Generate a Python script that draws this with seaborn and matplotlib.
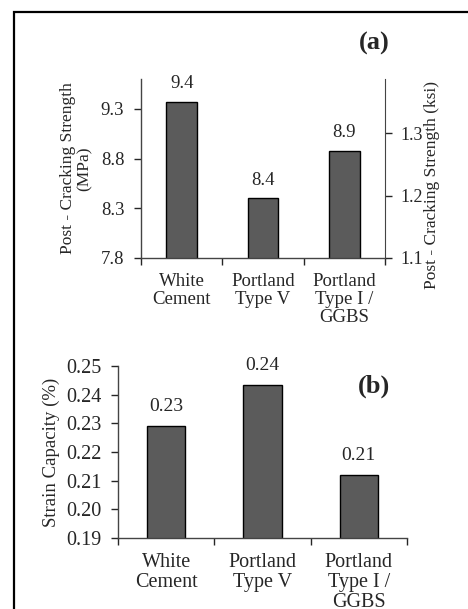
import seaborn as sns
import matplotlib.pyplot as plt
import pandas as pd
from matplotlib.patches import Rectangle

categories = ["White\nCement", "Portland\nType V", "Portland\nType I /\nGGBS"]
strength_mpa = [9.37, 8.40, 8.88]
strength_text = ["9.4", "8.4", "8.9"]
strain = [0.229, 0.2435, 0.212]
strain_text = ["0.23", "0.24", "0.21"]
mpa_ticks = [7.8, 8.3, 8.8, 9.3]
ksi_ticks = [1.1, 1.2, 1.3]
strain_ticks = [0.19, 0.20, 0.21, 0.22, 0.23, 0.24, 0.25]

sns.set_style("ticks")
plt.rcParams['font.family'] = ['Liberation Serif', 'DejaVu Serif']

fig = plt.figure(figsize=(4.68, 6.09), dpi=100)

# frame around the whole figure (only left/top visible in the crop)
fig.patches.append(Rectangle((14/468, -0.2), 1.2, 1.2 - 12/609,
                             transform=fig.transFigure, fill=False, lw=1.6,
                             ec="black", clip_on=False))

bar_col = "#5b5b5b"


def style_axis(ax, fs):
    ax.set_xlim(-0.5, 2.5)
    ax.set_xlabel("")
    ax.set_xticks([-0.5, 0.5, 1.5, 2.5], minor=True)
    ax.tick_params(axis="x", which="major", length=0, pad=11, labelsize=fs)
    ax.tick_params(axis="x", which="minor", length=5, width=1, direction="out")
    ax.tick_params(axis="y", length=5, width=1, pad=7, labelsize=fs)
    for s in ["top", "right"]:
        ax.spines[s].set_visible(False)
    for s in ["left", "bottom"]:
        ax.spines[s].set_color("#444444")
        ax.spines[s].set_linewidth(1)
    for lab in ax.get_xticklabels():
        lab.set_linespacing(1.05)


# (a) post-cracking strength
df_a = pd.DataFrame({"cat": categories, "val": strength_mpa})
ax1 = fig.add_axes([141/468, 1 - 258/609, 244/468, 179/609])
sns.barplot(data=df_a, x="cat", y="val", color=bar_col, saturation=1,
            width=0.38, edgecolor="black", linewidth=1, ax=ax1)
ax1.set_ylim(7.8, 9.6)
ax1.set_yticks(mpa_ticks)
ax1.set_yticklabels([f"{t:.1f}" for t in mpa_ticks])
style_axis(ax1, 13.5)
ax1.bar_label(ax1.containers[0], labels=strength_text, padding=7, fontsize=13.5)
ax1.set_ylabel("Post - Cracking Strength\n(MPa)", fontsize=12.5, linespacing=1.0)
ax1.yaxis.set_label_coords(-0.2, 0.5)
ax1.text(0.955, 1.2, "(a)", transform=ax1.transAxes, fontsize=19,
         fontweight="bold", ha="center", va="center")

ax1r = ax1.twinx()
ax1r.set_ylim(1.1, 1.387)
ax1r.set_yticks(ksi_ticks)
ax1r.set_yticklabels([f"{t:.1f}" for t in ksi_ticks])
ax1r.tick_params(axis="y", length=5, width=1, pad=6, labelsize=13)
for s in ["top", "left", "bottom"]:
    ax1r.spines[s].set_visible(False)
ax1r.spines["right"].set_color("#444444")
ax1r.set_ylabel("Post - Cracking Strength (ksi)", fontsize=12.5)
ax1r.yaxis.set_label_coords(1.16, 0.41)

# (b) strain capacity
df_b = pd.DataFrame({"cat": categories, "val": strain})
ax2 = fig.add_axes([118/468, 1 - 538/609, 289/468, 172/609])
sns.barplot(data=df_b, x="cat", y="val", color=bar_col, saturation=1,
            width=0.4, edgecolor="black", linewidth=1, ax=ax2)
ax2.set_ylim(0.19, 0.25)
ax2.set_yticks(strain_ticks)
ax2.set_yticklabels([f"{t:.2f}" for t in strain_ticks])
style_axis(ax2, 14.5)
ax2.bar_label(ax2.containers[0], labels=strain_text, padding=8, fontsize=14)
ax2.set_ylabel("Strain Capacity (%)", fontsize=13.5)
ax2.yaxis.set_label_coords(-0.2, 0.5)
ax2.text(0.885, 0.88, "(b)", transform=ax2.transAxes, fontsize=19,
         fontweight="bold", ha="center", va="center")

fig.savefig("out.png", dpi=100)
